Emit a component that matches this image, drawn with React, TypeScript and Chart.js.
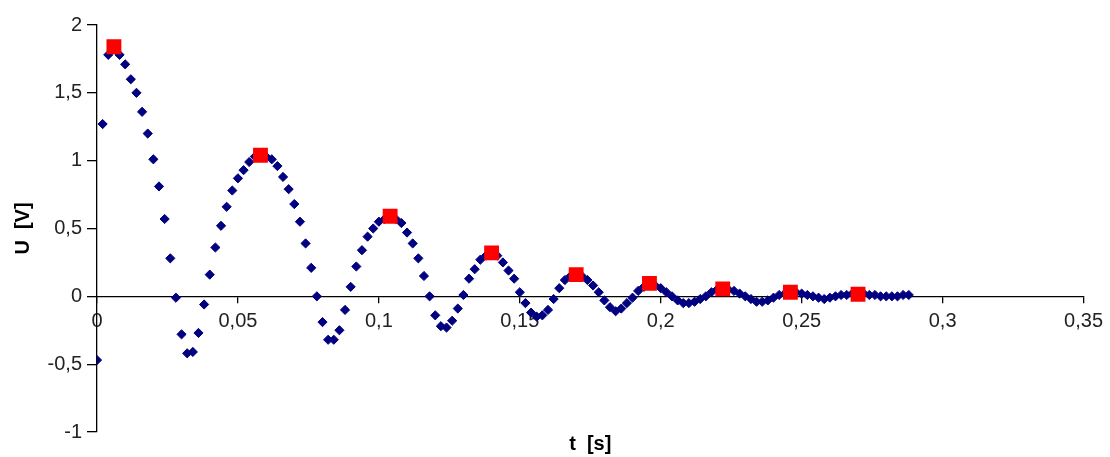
import React, { useEffect, useRef } from "react";
import { Chart, registerables } from "chart.js";

Chart.register(...registerables);

// time samples [s]
const T = [
  0, 0.002, 0.004, 0.006, 0.008, 0.01, 0.012, 0.014, 0.016, 0.018,
  0.02, 0.022, 0.024, 0.026, 0.028, 0.03, 0.032, 0.034, 0.036, 0.038,
  0.04, 0.042, 0.044, 0.046, 0.048, 0.05, 0.052, 0.054, 0.056, 0.058,
  0.06, 0.062, 0.064, 0.066, 0.068, 0.07, 0.072, 0.074, 0.076, 0.078,
  0.08, 0.082, 0.084, 0.086, 0.088, 0.09, 0.092, 0.094, 0.096, 0.098,
  0.1, 0.102, 0.104, 0.106, 0.108, 0.11, 0.112, 0.114, 0.116, 0.118,
  0.12, 0.122, 0.124, 0.126, 0.128, 0.13, 0.132, 0.134, 0.136, 0.138,
  0.14, 0.142, 0.144, 0.146, 0.148, 0.15, 0.152, 0.154, 0.156, 0.158,
  0.16, 0.162, 0.164, 0.166, 0.168, 0.17, 0.172, 0.174, 0.176, 0.178,
  0.18, 0.182, 0.184, 0.186, 0.188, 0.19, 0.192, 0.194, 0.196, 0.198,
  0.2, 0.202, 0.204, 0.206, 0.208, 0.21, 0.212, 0.214, 0.216, 0.218,
  0.22, 0.222, 0.224, 0.226, 0.228, 0.23, 0.232, 0.234, 0.236, 0.238,
  0.24, 0.242, 0.244, 0.246, 0.248, 0.25, 0.252, 0.254, 0.256, 0.258,
  0.26, 0.262, 0.264, 0.266, 0.268, 0.27, 0.272, 0.274, 0.276, 0.278,
  0.28, 0.282, 0.284, 0.286, 0.288,
];

// measured voltage [V]
const U = [
  -0.47, 1.27, 1.78, 1.83, 1.78, 1.71, 1.6, 1.5, 1.36, 1.2,
  1.01, 0.81, 0.57, 0.28, -0.01, -0.28, -0.42, -0.41, -0.27, -0.06,
  0.16, 0.36, 0.52, 0.66, 0.78, 0.87, 0.93, 0.99, 1.03, 1.04,
  1.03, 1.01, 0.96, 0.88, 0.79, 0.68, 0.55, 0.39, 0.21, 0.0,
  -0.19, -0.32, -0.32, -0.25, -0.1, 0.07, 0.22, 0.34, 0.44, 0.5,
  0.55, 0.57, 0.58, 0.57, 0.54, 0.47, 0.39, 0.28, 0.15, 0.0,
  -0.14, -0.22, -0.23, -0.18, -0.09, 0.01, 0.13, 0.2, 0.27, 0.3,
  0.31, 0.3, 0.25, 0.19, 0.13, 0.03, -0.05, -0.12, -0.15, -0.14,
  -0.1, -0.02, 0.06, 0.12, 0.15, 0.16, 0.15, 0.12, 0.08, 0.03,
  -0.03, -0.08, -0.11, -0.09, -0.05, -0.01, 0.04, 0.07, 0.09, 0.08,
  0.06, 0.03, 0.0, -0.03, -0.05, -0.05, -0.04, -0.02, 0.0, 0.03,
  0.05, 0.06, 0.05, 0.04, 0.02, 0.0, -0.02, -0.04, -0.04, -0.03,
  -0.01, 0.01, 0.02, 0.03, 0.03, 0.02, 0.01, 0.0, -0.01, -0.02,
  -0.01, 0.0, 0.01, 0.01, 0.02, 0.02, 0.02, 0.01, 0.01, 0.0,
  0.0, 0.0, 0.0, 0.01, 0.01,
];

// marked maxima
const PEAK_T = [0.006, 0.058, 0.104, 0.14, 0.17, 0.196, 0.222, 0.246, 0.27];
const PEAK_U = [1.84, 1.04, 0.59, 0.32, 0.16, 0.095, 0.055, 0.03, 0.015];

const X_MIN = 0;
const X_MAX = 0.35;
const X_STEP = 0.05;
const Y_MIN = -1;
const Y_MAX = 2;
const Y_STEP = 0.5;

const FONT = "'Liberation Sans', Arial, sans-serif";

function fmt(v: number | string): string {
  const n = Number(v);
  return String(Number(n.toFixed(2))).replace(".", ",");
}

export default function App() {
  const ref = useRef<HTMLCanvasElement>(null);

  useEffect(() => {
    if (!ref.current) return;
    const chart = new Chart(ref.current, {
      type: "scatter",
      data: {
        datasets: [
          {
            label: "peaks",
            data: PEAK_T.map((t, i) => ({ x: t, y: PEAK_U[i] })),
            pointStyle: "rect",
            pointRadius: 10.5,
            pointHoverRadius: 10.5,
            backgroundColor: "#ff0000",
            borderColor: "#ff0000",
            borderWidth: 0,
          },
          {
            label: "U",
            data: T.map((t, i) => ({ x: t, y: U[i] })),
            pointStyle: "rectRot",
            pointRadius: 4.6,
            pointHoverRadius: 4.6,
            backgroundColor: "#000080",
            borderColor: "#000080",
            borderWidth: 1,
          },
        ],
      },
      options: {
        animation: false,
        responsive: false,
        maintainAspectRatio: false,
        events: [],
        layout: { padding: { left: 0, right: 25, top: 25, bottom: 1 } },
        plugins: {
          legend: { display: false },
          tooltip: { enabled: false },
          title: {
            display: true,
            position: "bottom",
            fullSize: false,
            text: "t  [s]",
            color: "#000",
            font: { family: FONT, size: 20, weight: "bold" },
            padding: 0,
          },
        },
        scales: {
          x: {
            type: "linear",
            position: { y: 0 },
            min: X_MIN,
            max: X_MAX,
            ticks: {
              stepSize: X_STEP,
              callback: (v) => fmt(v),
              color: "#222",
              font: { family: FONT, size: 20 },
              padding: 7,
              maxRotation: 0,
              autoSkip: false,
            },
            grid: {
              drawOnChartArea: false,
              drawTicks: true,
              tickLength: 6,
              color: "#000",
              lineWidth: 1.3,
            },
            border: { display: true, color: "#000", width: 1.3 },
          },
          y: {
            type: "linear",
            position: "left",
            min: Y_MIN,
            max: Y_MAX,
            ticks: {
              stepSize: Y_STEP,
              callback: (v) => fmt(v),
              color: "#222",
              font: { family: FONT, size: 20 },
              padding: 5,
            },
            grid: {
              drawOnChartArea: false,
              drawTicks: true,
              tickLength: 10,
              color: "#000",
              lineWidth: 1.3,
            },
            border: { display: true, color: "#000", width: 1.3 },
            title: {
              display: true,
              text: "U  [V]",
              color: "#000",
              font: { family: FONT, size: 20, weight: "bold" },
              padding: { top: 11, bottom: 0 },
            },
            afterFit: (s) => {
              s.width = 97;
            },
          },
        },
      },
    });
    return () => chart.destroy();
  }, []);

  return (
    <div style={{ position: "fixed", left: 0, top: 0, width: 1110, height: 457 }}>
      <canvas ref={ref} width={1110} height={457} style={{ display: "block" }} />
    </div>
  );
}
